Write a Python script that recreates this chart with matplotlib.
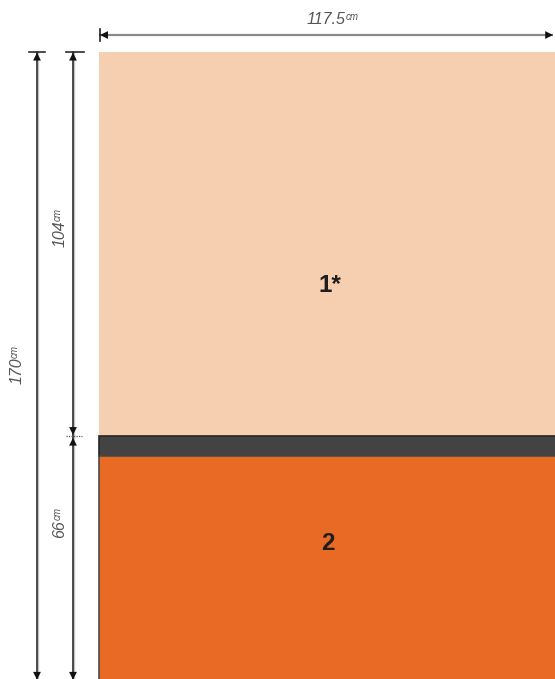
import matplotlib
matplotlib.use('Agg')
import matplotlib.pyplot as plt
from matplotlib.patches import Rectangle

# dimensions of the two zones, in cm
width_cm = 117.5
heights_cm = [104, 66]
total_cm = 170
zone_labels = ['1*', '2']

plt.rcParams['font.family'] = ['Liberation Sans', 'DejaVu Sans']

W, H = 555, 679
# pixel geometry of the drawing (panel top-left corner and scales)
x0, y0 = 99, 52
sx = (553 - x0) / width_cm
sy = (436 - y0) / heights_cm[0]

fig = plt.figure(figsize=(W / 100, H / 100), dpi=100)
ax = fig.add_axes([0, 0, 1, 1])
ax.set_xlim(-x0 / sx, (W - x0) / sx)
ax.set_ylim((H - y0) / sy, -y0 / sy)
ax.axis('off')
renderer = fig.canvas.get_renderer()


def px_x(p):
    return (p - x0) / sx


def px_y(p):
    return (p - y0) / sy


peach = '#F6CFB1'
orange = '#E96A25'
bar_c = '#434343'
dim_c = '#2b2b2b'
txt_c = '#555555'

h1 = heights_cm[0]
bar_h = px_y(456) - px_y(436)
big_w = width_cm * 1.2

# zones
ax.add_patch(Rectangle((0, 0), big_w, h1, facecolor=peach, edgecolor='none'))
ax.add_patch(Rectangle((0, h1), big_w, bar_h, facecolor=bar_c,
                       edgecolor='#262626', lw=1.2))
ax.add_patch(Rectangle((0, h1 + bar_h), big_w, total_cm, facecolor=orange,
                       edgecolor='#4a4a4a', lw=1.2))

ax.text(px_x(330), px_y(285), zone_labels[0], fontsize=17.5, color='#1e1e1e',
        fontweight='bold', ha='center', va='center')
ax.text(px_x(328), px_y(543), zone_labels[1], fontsize=17.5, color='#1e1e1e',
        fontweight='bold', ha='center', va='center')


def head(x, y, dx, dy):
    # small filled arrow head ending at (x, y)
    ax.annotate('', xy=(x, y), xytext=(x - dx, y - dy), annotation_clip=False,
                arrowprops=dict(arrowstyle='-|>', color='#111111', lw=0.01,
                                mutation_scale=14, shrinkA=0, shrinkB=0))


def dim_label(x, y, value, vertical=False):
    # italic number with a small "cm" superscript after it
    t = ax.text(x, y, f'{value:g}', fontsize=11.5, fontstyle='italic',
                color=txt_c, rotation=90 if vertical else 0,
                ha='center', va='center')
    bb = t.get_window_extent(renderer)
    inv = ax.transData.inverted()
    if vertical:
        px, py = inv.transform((bb.x0, bb.y1))
        ax.text(px, py, 'cm', fontsize=7, fontstyle='italic', color=txt_c,
                rotation=90, ha='left', va='bottom')
    else:
        px, py = inv.transform((bb.x1, bb.y1 + 1))
        ax.text(px, py, 'cm', fontsize=7, fontstyle='italic', color=txt_c,
                ha='left', va='top')


def vline(x, ya, yb):
    ax.plot([x + 1 / sx, x + 1 / sx], [ya, yb], color='#c4c4c4', lw=1.0)
    ax.plot([x, x], [ya, yb], color=dim_c, lw=1.2)


# horizontal dimension (width)
yh = px_y(35)
ax.plot([0, width_cm], [yh, yh], color='#8a8a8a', lw=1.6, solid_capstyle='butt')
ax.plot([px_x(100), px_x(100)], [px_y(29), px_y(41)], color='#222222', lw=1.2)
head(0.3, yh, -2.0, 0)
head(width_cm, yh, 2.0, 0)
dim_label(px_x(326), px_y(20), width_cm)

# vertical dimension: total
xa = px_x(37)
vline(xa, 0, total_cm)
ax.plot([px_x(29), px_x(45)], [0, 0], color=dim_c, lw=1.2)
head(xa, 0.2, 0, -2.5)
head(xa, total_cm, 0, 2.5)
dim_label(px_x(17), px_y(371), total_cm, vertical=True)

# vertical dimension: two zones
xb = px_x(73)
vline(xb, 0, total_cm)
ax.plot([px_x(66), px_x(84)], [0, 0], color=dim_c, lw=1.2)
ax.plot([px_x(66), px_x(82)], [h1, h1], color='#555555', lw=0.9, ls=(0, (1, 1)))
head(xb, 0.2, 0, -2.5)
head(xb, h1 - 0.3, 0, 2.5)
head(xb, h1 + 0.5, 0, -2.5)
head(xb, total_cm, 0, 2.5)
dim_label(px_x(60), px_y(234), heights_cm[0], vertical=True)
dim_label(px_x(60), px_y(529), heights_cm[1], vertical=True)

fig.savefig('out.png', dpi=100)
